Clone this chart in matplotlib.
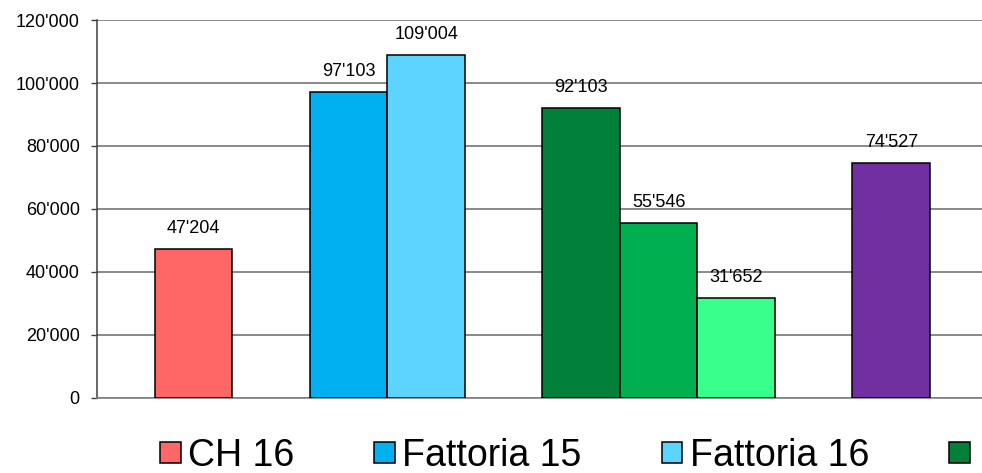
import matplotlib.pyplot as plt
from matplotlib.ticker import FuncFormatter, MultipleLocator

plt.rcParams["font.family"] = ["Liberation Sans", "DejaVu Sans"]

# Données (groupes séparés par une case vide)
groupes = [
    ["CH 16"],
    ["Fattoria 15", "Fattoria 16"],
    ["Verde 1", "Verde 2", "Verde 3"],
    ["Viola"],
]
valeurs = [47204, 97103, 109004, 92103, 55546, 31652, 74527]
couleurs = ["#FF6666", "#00B0F0", "#5DD3FF", "#008038", "#00B050", "#39FF8C", "#7030A0"]


def milliers(v, pos=None):
    return f"{int(round(v)):,}".replace(",", "'")


# Positions : une case vide entre chaque groupe
positions = []
x = 1
for g in groupes:
    for _ in g:
        positions.append(x)
        x += 1
    x += 1
noms = [n for g in groupes for n in g]

fig = plt.figure(figsize=(9.82, 4.73), dpi=100)
ax = fig.add_axes([0.0988, 0.1586, 1 - 0.0988, 0.7991])

barres = ax.bar(positions, valeurs, width=1.0, color=couleurs,
                edgecolor="black", linewidth=1.1, zorder=3)

for xb, v in zip(positions, valeurs):
    ax.annotate(milliers(v), (xb, v), xytext=(0, 11.5), textcoords="offset points",
                ha="center", va="baseline", fontsize=13, zorder=4)

ax.set_ylim(0, 120000)
ax.set_xlim(-0.248, 11.171)
ax.yaxis.set_major_locator(MultipleLocator(20000))
ax.yaxis.set_major_formatter(FuncFormatter(milliers))
ax.grid(axis="y", color="#767676", linewidth=1.2, zorder=0)
ax.set_xticks([])
ax.tick_params(axis="y", labelsize=13, length=4, width=1, pad=8.5, color="#404040")

for cote in ["top", "right"]:
    ax.spines[cote].set_visible(False)
ax.spines["left"].set_color("#404040")
ax.spines["bottom"].set_color("#808080")
ax.spines["left"].set_linewidth(1.1)
ax.spines["bottom"].set_linewidth(1.2)

# Légende (coupée à droite comme dans l'original)
handles = list(barres[:4])
labels = noms[:3] + [""]
fig.legend(handles, labels, loc="center left", bbox_to_anchor=(160 / 982, 0.036),
           ncol=4, frameon=False, fontsize=27, handlelength=0.55, handleheight=0.5,
           handletextpad=0.2, columnspacing=2.13, borderpad=0, borderaxespad=0)

plt.savefig("out.png", dpi=100)
